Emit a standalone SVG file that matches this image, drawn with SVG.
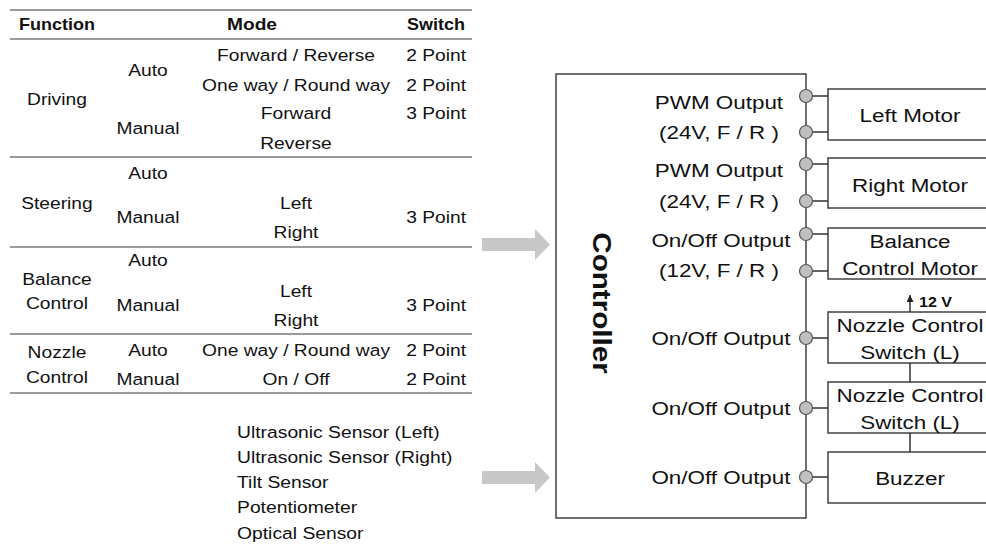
<svg xmlns="http://www.w3.org/2000/svg" width="986" height="560" viewBox="0 0 986 560">
  <style>
    text { font-family: "Liberation Sans", Arial, sans-serif; fill: #111; }
    .t { font-size: 16.5px; }
    .c { text-anchor: middle; }
    .e { text-anchor: end; }
    .hd { font-size: 17px; font-weight: bold; }
    .rule { stroke: #7a7a7a; stroke-width: 1.5; fill: none; }
    .sen { font-size: 16.5px; }
    .lbl { font-size: 19px; text-anchor: middle; }
    .box { fill: #fff; stroke: #404040; stroke-width: 1.5; }
    .wire { stroke: #333; stroke-width: 1.5; fill: none; }
    .pin { fill: #c0c0c0; stroke: #555; stroke-width: 1.2; }
    .big { fill: #c8c8c8; }
  </style>
  <defs>
    <marker id="up" viewBox="0 0 10 10" refX="10" refY="5" markerWidth="8" markerHeight="7" orient="auto" markerUnits="userSpaceOnUse">
      <path d="M0,0 L10,5 L0,10 Z" fill="#222"/>
    </marker>
  </defs>
  <rect width="986" height="560" fill="#fff"/>

  <!-- function / mode / switch table -->
  <g id="table">
    <line class="rule" x1="10" y1="10" x2="472" y2="10"/>
    <line class="rule" x1="10" y1="39" x2="472" y2="39"/>
    <line class="rule" x1="10" y1="157" x2="472" y2="157"/>
    <line class="rule" x1="10" y1="247" x2="472" y2="247"/>
    <line class="rule" x1="10" y1="334" x2="472" y2="334"/>
    <line class="rule" x1="10" y1="393" x2="472" y2="393"/>

    <text class="hd" x="19" y="30" textLength="76" lengthAdjust="spacingAndGlyphs">Function</text>
    <text class="hd c" x="252" y="30" textLength="50" lengthAdjust="spacingAndGlyphs">Mode</text>
    <text class="hd e" x="465" y="30" textLength="58" lengthAdjust="spacingAndGlyphs">Switch</text>

    <!-- body rows use a slightly wide face -->
    <g transform="scale(1.165,1)">
      <text class="t c" x="48.9" y="105">Driving</text>
      <text class="t c" x="127" y="76">Auto</text>
      <text class="t c" x="127" y="134">Manual</text>
      <text class="t c" x="254.1" y="61">Forward / Reverse</text>
      <text class="t c" x="254.1" y="91">One way / Round way</text>
      <text class="t c" x="254.1" y="119">Forward</text>
      <text class="t c" x="254.1" y="149">Reverse</text>
      <text class="t e" x="400" y="61">2 Point</text>
      <text class="t e" x="400" y="91">2 Point</text>
      <text class="t e" x="400" y="119">3 Point</text>

      <text class="t c" x="48.9" y="209">Steering</text>
      <text class="t c" x="127" y="179">Auto</text>
      <text class="t c" x="127" y="223">Manual</text>
      <text class="t c" x="254.1" y="209">Left</text>
      <text class="t c" x="254.1" y="238">Right</text>
      <text class="t e" x="400" y="223">3 Point</text>

      <text class="t c" x="48.9" y="285">Balance</text>
      <text class="t c" x="48.9" y="309">Control</text>
      <text class="t c" x="127" y="266">Auto</text>
      <text class="t c" x="127" y="311">Manual</text>
      <text class="t c" x="254.1" y="297">Left</text>
      <text class="t c" x="254.1" y="326">Right</text>
      <text class="t e" x="400" y="311">3 Point</text>

      <text class="t c" x="48.9" y="358">Nozzle</text>
      <text class="t c" x="48.9" y="383">Control</text>
      <text class="t c" x="127" y="356">Auto</text>
      <text class="t c" x="127" y="385">Manual</text>
      <text class="t c" x="254.1" y="356">One way / Round way</text>
      <text class="t c" x="254.1" y="385">On / Off</text>
      <text class="t e" x="400" y="356">2 Point</text>
      <text class="t e" x="400" y="385">2 Point</text>
    </g>
  </g>

  <!-- sensor inputs -->
  <g id="sensors" transform="scale(1.17,1)">
    <text class="sen" x="202.6" y="438">Ultrasonic Sensor (Left)</text>
    <text class="sen" x="202.6" y="463">Ultrasonic Sensor (Right)</text>
    <text class="sen" x="202.6" y="488">Tilt Sensor</text>
    <text class="sen" x="202.6" y="513">Potentiometer</text>
    <text class="sen" x="202.6" y="539">Optical Sensor</text>
  </g>

  <!-- block arrows into the controller -->
  <g id="inputs">
    <path class="big" d="M482,238 H535 V229 L550,244.5 L535,260 V251 H482 Z"/>
    <path class="big" d="M482,471 H535 V462 L550,477.5 L535,493 V484 H482 Z"/>
  </g>

  <!-- controller -->
  <g id="controller">
    <rect class="box" x="556" y="74" width="250" height="444"/>
    <text transform="translate(593,303) rotate(90) scale(1.14,1)" text-anchor="middle" font-size="26" font-weight="bold">Controller</text>
    <g transform="scale(1.18,1)">
      <text class="lbl" x="609.3" y="109">PWM Output</text>
      <text class="lbl" x="609.3" y="139">(24V, F / R )</text>
      <text class="lbl" x="609.3" y="177">PWM Output</text>
      <text class="lbl" x="609.3" y="208">(24V, F / R )</text>
      <text class="lbl" x="611" y="247">On/Off Output</text>
      <text class="lbl" x="609.3" y="277">(12V, F / R )</text>
      <text class="lbl" x="611" y="345">On/Off Output</text>
      <text class="lbl" x="611" y="415">On/Off Output</text>
      <text class="lbl" x="611" y="484">On/Off Output</text>
    </g>
  </g>

  <!-- loads -->
  <g id="left-motor">
    <rect class="box" x="828" y="89" width="170" height="51"/>
    <text class="lbl" transform="scale(1.18,1)" x="771.2" y="122">Left Motor</text>
  </g>
  <g id="right-motor">
    <rect class="box" x="828" y="158" width="170" height="50"/>
    <text class="lbl" transform="scale(1.18,1)" x="771.2" y="192">Right Motor</text>
  </g>
  <g id="balance-motor">
    <rect class="box" x="828" y="228" width="170" height="51"/>
    <text class="lbl" transform="scale(1.18,1)" x="771.2" y="248">Balance</text>
    <text class="lbl" transform="scale(1.18,1)" x="771.2" y="275">Control Motor</text>
  </g>
  <g id="nozzle-switch-1">
    <rect class="box" x="828" y="312" width="170" height="51"/>
    <text class="lbl" transform="scale(1.18,1)" x="771.2" y="332">Nozzle Control</text>
    <text class="lbl" transform="scale(1.18,1)" x="771.2" y="359">Switch (L)</text>
  </g>
  <g id="nozzle-switch-2">
    <rect class="box" x="828" y="382" width="170" height="51"/>
    <text class="lbl" transform="scale(1.18,1)" x="771.2" y="402">Nozzle Control</text>
    <text class="lbl" transform="scale(1.18,1)" x="771.2" y="429">Switch (L)</text>
  </g>
  <g id="buzzer">
    <rect class="box" x="828" y="452" width="170" height="51"/>
    <text class="lbl" transform="scale(1.18,1)" x="771.2" y="485">Buzzer</text>
  </g>

  <!-- wiring -->
  <g id="connectors">
    <path class="wire" d="M806,96 H828 M806,132 H828 M806,164 H828 M806,201 H828 M806,234 H828 M806,271 H828 M806,338 H828 M806,408 H828 M806,477 H828"/>
    <path class="wire" d="M910,363 V382 M910,433 V452"/>
    <line class="wire" x1="910" y1="312" x2="910" y2="295" marker-end="url(#up)"/>
    <text x="919" y="307" font-size="15.5" font-weight="bold" textLength="33" lengthAdjust="spacingAndGlyphs">12 V</text>
    <circle class="pin" cx="806" cy="96" r="6.5"/>
    <circle class="pin" cx="806" cy="132" r="6.5"/>
    <circle class="pin" cx="806" cy="164" r="6.5"/>
    <circle class="pin" cx="806" cy="201" r="6.5"/>
    <circle class="pin" cx="806" cy="234" r="6.5"/>
    <circle class="pin" cx="806" cy="271" r="6.5"/>
    <circle class="pin" cx="806" cy="338" r="6.5"/>
    <circle class="pin" cx="806" cy="408" r="6.5"/>
    <circle class="pin" cx="806" cy="477" r="6.5"/>
  </g>
</svg>
